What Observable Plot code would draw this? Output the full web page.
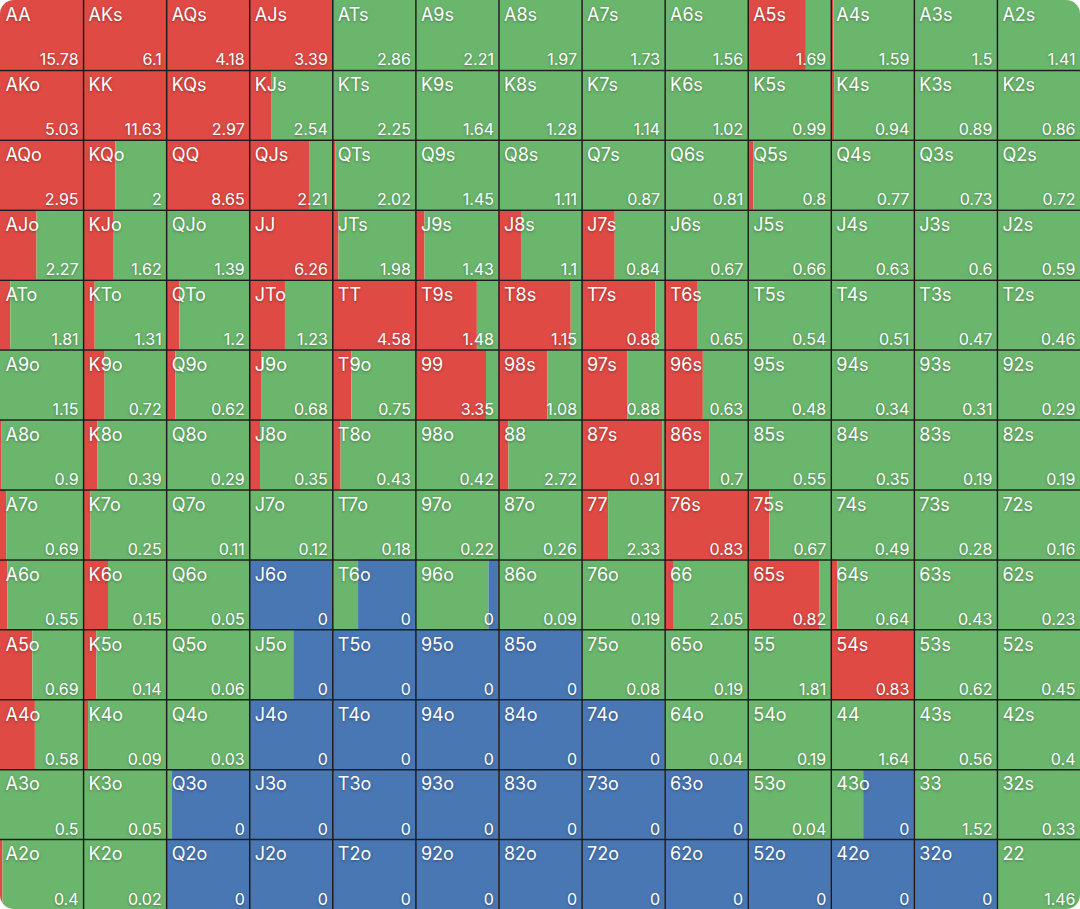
<!DOCTYPE html>
<html>
<head>
<meta charset="utf-8">
<script src="https://cdn.jsdelivr.net/npm/d3@7"></script>
<script src="https://cdn.jsdelivr.net/npm/@observablehq/plot@0.6"></script>
<style>
  html, body { margin: 0; padding: 0; background: #ffffff; }
  #wrap { width: 1080px; height: 909px; border-radius: 14px; overflow: hidden; }
  #wrap svg text { text-shadow: 0 1px 3px rgba(0,0,0,0.35); }
</style>
</head>
<body>
<div id="wrap"></div>
<script>
const ranks = ["A","K","Q","J","T","9","8","7","6","5","4","3","2"];

// EV values shown in each cell (row = first rank index, column = second)
const values = [
  [15.78, 6.1, 4.18, 3.39, 2.86, 2.21, 1.97, 1.73, 1.56, 1.69, 1.59, 1.5, 1.41],
  [5.03, 11.63, 2.97, 2.54, 2.25, 1.64, 1.28, 1.14, 1.02, 0.99, 0.94, 0.89, 0.86],
  [2.95, 2, 8.65, 2.21, 2.02, 1.45, 1.11, 0.87, 0.81, 0.8, 0.77, 0.73, 0.72],
  [2.27, 1.62, 1.39, 6.26, 1.98, 1.43, 1.1, 0.84, 0.67, 0.66, 0.63, 0.6, 0.59],
  [1.81, 1.31, 1.2, 1.23, 4.58, 1.48, 1.15, 0.88, 0.65, 0.54, 0.51, 0.47, 0.46],
  [1.15, 0.72, 0.62, 0.68, 0.75, 3.35, 1.08, 0.88, 0.63, 0.48, 0.34, 0.31, 0.29],
  [0.9, 0.39, 0.29, 0.35, 0.43, 0.42, 2.72, 0.91, 0.7, 0.55, 0.35, 0.19, 0.19],
  [0.69, 0.25, 0.11, 0.12, 0.18, 0.22, 0.26, 2.33, 0.83, 0.67, 0.49, 0.28, 0.16],
  [0.55, 0.15, 0.05, 0, 0, 0, 0.09, 0.19, 2.05, 0.82, 0.64, 0.43, 0.23],
  [0.69, 0.14, 0.06, 0, 0, 0, 0, 0.08, 0.19, 1.81, 0.83, 0.62, 0.45],
  [0.58, 0.09, 0.03, 0, 0, 0, 0, 0, 0.04, 0.19, 1.64, 0.56, 0.4],
  [0.5, 0.05, 0, 0, 0, 0, 0, 0, 0, 0.04, 0, 1.52, 0.33],
  [0.4, 0.02, 0, 0, 0, 0, 0, 0, 0, 0, 0, 0, 1.46]
];

// share of raise (red) in each cell
const raiseShare = [
  [1, 1, 1, 1, 0, 0, 0, 0, 0, 0.70, 0.03, 0, 0],
  [1, 1, 1, 0.27, 0, 0, 0, 0, 0, 0.015, 0.04, 0, 0.01],
  [1, 0.39, 1, 0.72, 0.04, 0, 0, 0, 0, 0.07, 0, 0, 0],
  [0.44, 0.36, 0, 1, 0.075, 0.11, 0.28, 0.40, 0, 0, 0, 0, 0],
  [0.125, 0.14, 0.16, 0.43, 1, 0.74, 0.87, 0.89, 0.39, 0, 0, 0, 0],
  [0, 0.26, 0.11, 0.15, 0.23, 0.85, 0.59, 0.55, 0.46, 0, 0, 0, 0],
  [0.02, 0.17, 0.01, 0.13, 0.1, 0, 0.12, 0.97, 0.54, 0, 0, 0, 0],
  [0.075, 0.09, 0, 0, 0, 0, 0, 0.32, 1, 0.26, 0, 0, 0],
  [0.09, 0.30, 0, 0, 0, 0, 0, 0, 0.11, 0.86, 0.08, 0, 0],
  [0.39, 0.16, 0, 0, 0, 0, 0, 0, 0, 0, 1, 0, 0],
  [0.42, 0.06, 0, 0, 0, 0, 0, 0, 0, 0, 0, 0, 0],
  [0, 0, 0, 0, 0, 0, 0, 0, 0, 0, 0, 0, 0],
  [0.03, 0, 0, 0, 0, 0, 0, 0, 0, 0, 0, 0, 0]
];

// share of fold (blue) in each cell
const foldShare = [
  [0, 0, 0, 0, 0, 0, 0, 0, 0, 0, 0, 0, 0],
  [0, 0, 0, 0, 0, 0, 0, 0, 0, 0, 0, 0, 0],
  [0, 0, 0, 0, 0, 0, 0, 0, 0, 0, 0, 0, 0],
  [0, 0, 0, 0, 0, 0, 0, 0, 0, 0, 0, 0, 0],
  [0, 0, 0, 0, 0, 0, 0, 0, 0, 0, 0, 0, 0],
  [0, 0, 0, 0, 0, 0, 0, 0, 0, 0, 0, 0, 0],
  [0, 0, 0, 0, 0, 0, 0, 0, 0, 0, 0, 0, 0],
  [0, 0, 0, 0, 0, 0, 0, 0, 0, 0, 0, 0, 0],
  [0, 0, 0, 1, 0.69, 0.12, 0, 0, 0, 0, 0, 0, 0],
  [0, 0, 0, 0.47, 1, 1, 1, 0, 0, 0, 0, 0, 0],
  [0, 0, 0, 1, 1, 1, 1, 1, 0, 0, 0, 0, 0],
  [0, 0, 0.93, 1, 1, 1, 1, 1, 1, 0, 0.61, 0, 0],
  [0, 0, 1, 1, 1, 1, 1, 1, 1, 1, 1, 1, 0]
];

const actions = ["raise", "call", "fold"];
const actionColors = ["#DF4A44", "#6BB66D", "#4977B4"];

const cells = [];
const segments = [];
for (let i = 0; i < 13; i++) {
  for (let j = 0; j < 13; j++) {
    const hand = i === j ? ranks[i] + ranks[j]
      : i < j ? ranks[i] + ranks[j] + "s"
      : ranks[j] + ranks[i] + "o";
    const r = raiseShare[i][j], f = foldShare[i][j];
    const c = Math.max(0, 1 - r - f);
    cells.push({row: i, col: j, hand, value: values[i][j]});
    let start = 0;
    [[actions[0], r], [actions[1], c], [actions[2], f]].forEach(([a, s]) => {
      if (s > 0) {
        segments.push({row: i, x1: j + start, x2: j + start + s, action: a});
        start += s;
      }
    });
  }
}
const lines = d3.range(1, 13);

const chart = Plot.plot({
  width: 1080,
  height: 909,
  margin: 0,
  style: {background: "#ffffff", fontFamily: "Inter, 'Noto Sans', sans-serif"},
  x: {domain: [0, 13], range: [0, 1080], axis: null},
  y: {domain: [0, 13], range: [0, 909], axis: null},
  color: {domain: actions, range: actionColors},
  marks: [
    Plot.rect(segments, {x1: "x1", x2: "x2", y1: "row", y2: d => d.row + 1, fill: "action"}),
    Plot.ruleX(lines, {stroke: "#1c1c1c", strokeWidth: 1.5}),
    Plot.ruleY(lines, {stroke: "#1c1c1c", strokeWidth: 1.5}),
    Plot.text(cells, {x: "col", y: "row", text: "hand", fill: "white", fontSize: 18,
      textAnchor: "start", lineAnchor: "top", dx: 5, dy: 8}),
    Plot.text(cells, {x: d => d.col + 1, y: d => d.row + 1, text: d => String(d.value), fill: "white",
      fontSize: 16, textAnchor: "end", lineAnchor: "bottom", dx: -5, dy: -5})
  ]
});
document.getElementById("wrap").appendChild(chart);
</script>
</body>
</html>
